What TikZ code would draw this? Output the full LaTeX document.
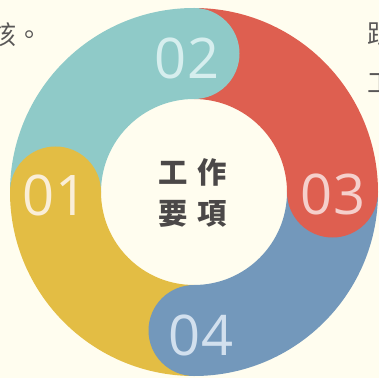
\documentclass[tikz,border=0pt]{standalone}
\usepackage{fontspec}
\setmainfont{Open Sans}
\newfontfamily\cjkfont{Noto Sans CJK TC}
\usepackage{tikz}

\definecolor{bgcream}{HTML}{FFFDEF}
\definecolor{ringteal}{HTML}{8FCAC8}
\definecolor{ringred}{HTML}{DE5F50}
\definecolor{ringblue}{HTML}{7398BB}
\definecolor{ringyellow}{HTML}{E3BD44}
\definecolor{numteal}{HTML}{D6EEEE}
\definecolor{numred}{HTML}{F5D0CC}
\definecolor{numblue}{HTML}{D2E0EE}
\definecolor{numyellow}{HTML}{FAEED8}
\definecolor{titlegray}{HTML}{4B4848}
\definecolor{cornergray}{HTML}{595757}

\begin{document}
\begin{tikzpicture}[x=0.75pt,y=0.75pt,yscale=-1,xscale=1,
  segnum/.style={font=\fontsize{42}{42}\selectfont, inner sep=0pt},
  titletext/.style={font=\cjkfont\bfseries\fontsize{22}{22}\selectfont, text=titlegray, inner sep=0pt},
  cornertext/.style={font=\cjkfont\fontsize{19.5}{19.5}\selectfont, text=cornergray, anchor=base west, inner sep=0pt}]

%Background
\fill[bgcream] (0,0) rectangle (379,378);
\clip (0,0) rectangle (379,378);

\begin{scope}[shift={(194,192)}]
%Shape: Ring sectors
\fill[ringteal] (180:184) arc[start angle=180, end angle=270, radius=184] -- (270:93) arc[start angle=270, end angle=180, radius=93] -- cycle;
\fill[ringred] (270:184) arc[start angle=270, end angle=360, radius=184] -- (0:93) arc[start angle=360, end angle=270, radius=93] -- cycle;
\fill[ringblue] (0:184) arc[start angle=0, end angle=90, radius=184] -- (90:93) arc[start angle=90, end angle=0, radius=93] -- cycle;
\fill[ringyellow] (90:184) arc[start angle=90, end angle=180, radius=184] -- (180:93) arc[start angle=180, end angle=90, radius=93] -- cycle;

%Shape: Round ends
\fill[ringteal] (270:138.5) circle[radius=45.5];
\fill[ringred] (0:138.5) circle[radius=45.5];
\fill[ringblue] (90:138.5) circle[radius=45.5];
\fill[ringyellow] (180:138.5) circle[radius=45.5];
\end{scope}

% Text Node
\node[segnum, text=numyellow] (num1) at (55,195) {01};
\node[segnum, text=numteal] (num2) at (187,58) {02};
\node[segnum, text=numred] (num3) at (333,194) {03};
\node[segnum, text=numblue] (num4) at (201,335) {04};

% Text Node
\node[titletext] (title1) at (193,172) {工\hspace{7.5pt}作};
\node[titletext] (title2) at (193,214) {要\hspace{7.5pt}項};

% Text Node
\node[cornertext] (leftpara) at (-10,45) {該。};
\node[cornertext] (rightpara1) at (367,44) {跟};
\node[cornertext] (rightpara2) at (367,93) {工};

\end{tikzpicture}
\end{document}
